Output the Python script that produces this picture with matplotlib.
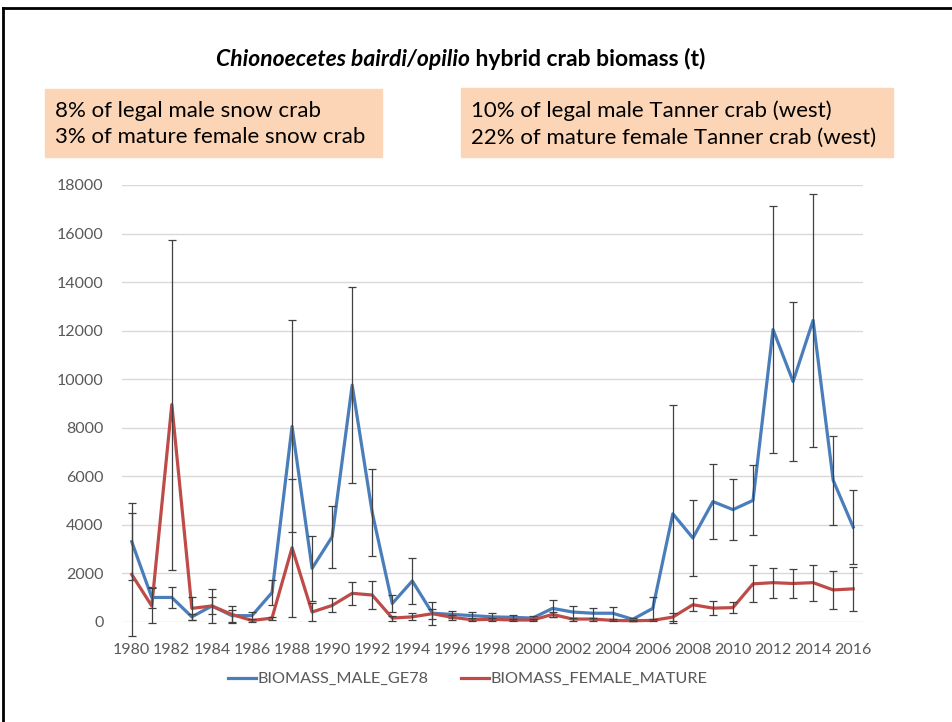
import numpy as np
import matplotlib.pyplot as plt

plt.rcParams['font.family'] = ['Lato', 'DejaVu Sans']

# данные: биомасса гибридного краба (т) и половина доверительного интервала
years = list(range(1980, 2017))
male = [3300, 1000, 1000, 200, 650, 250, 250, 1200, 8050, 2200, 3500, 9750, 4500,
        750, 1680, 350, 300, 250, 200, 180, 150, 550, 400, 350, 350, 100, 550,
        4450, 3450, 4950, 4620, 5000, 12040, 9900, 12420, 5830, 3900]
male_err = [1600, 420, 450, 120, 350, 250, 170, 500, 4370, 1350, 1270, 4040, 1800,
            350, 930, 480, 160, 150, 140, 90, 90, 350, 250, 220, 250, 50, 480,
            4500, 1570, 1550, 1260, 1445, 5100, 3270, 5200, 1840, 1530]
female = [1950, 650, 8950, 550, 650, 300, 50, 150, 3050, 400, 670, 1170, 1100,
          150, 200, 330, 180, 80, 100, 70, 70, 300, 110, 110, 55, 40, 55,
          190, 700, 560, 580, 1560, 1610, 1575, 1610, 1310, 1355]
female_err = [2550, 720, 6800, 480, 700, 350, 50, 60, 2850, 360, 290, 480, 590,
              100, 140, 200, 90, 60, 60, 40, 40, 100, 60, 60, 40, 30, 40,
              150, 260, 290, 230, 760, 620, 600, 740, 790, 900]

title_it = 'Chionoecetes bairdi/opilio'
title_rest = ' hybrid crab biomass (t)'
box_left = '8% of legal male snow crab\n3% of mature female snow crab'
box_right = '10% of legal male Tanner crab (west)\n22% of mature female Tanner crab (west)'

blue = '#4A7EBB'
red = '#BE4B48'
grey_txt = '#595959'

fig = plt.figure(figsize=(9.53, 7.22), dpi=100)
ax = fig.add_axes([0.1277, 0.1389, 0.7781, 0.6049])

# линии и планки погрешностей
ax.plot(years, male, color=blue, lw=2.3, label='BIOMASS_MALE_GE78', zorder=3)
ax.errorbar(years, male, yerr=male_err, fmt='none', ecolor='#404040', elinewidth=0.9,
            capsize=3, capthick=0.9, zorder=4, clip_on=False)
ax.plot(years, female, color=red, lw=2.3, label='BIOMASS_FEMALE_MATURE', zorder=5)
ax.errorbar(years, female, yerr=female_err, fmt='none', ecolor='#404040', elinewidth=0.9,
            capsize=3, capthick=0.9, zorder=6, clip_on=False)
for art in ax.collections + ax.lines:
    art.set_clip_on(False)

# оси
ax.set_xlim(1979.5, 2016.5)
ax.set_ylim(0, 18000)
ax.set_xticks(years[::2])
ax.set_yticks(np.arange(0, 18001, 2000))
ax.tick_params(length=0, labelsize=11.5, labelcolor=grey_txt)
ax.tick_params(axis='y', pad=13)
ax.tick_params(axis='x', pad=15)
ax.grid(axis='y', color='#D9D9D9', lw=1, zorder=0)
for s in ax.spines.values():
    s.set_visible(False)

# заголовок
t1 = fig.text(216 / 953, 1 - 66 / 722, title_it, fontsize=16.5, style='italic',
              weight='bold', ha='left', va='baseline')
fig.canvas.draw()
fig.text(t1.get_window_extent().x1 / 953, 1 - 66 / 722, title_rest, fontsize=16.5,
         weight='bold', ha='left', va='baseline')

# оранжевые плашки
fig.patches.append(plt.Rectangle((45 / 953, 1 - 157 / 722), 337 / 953, 68 / 722,
                                 transform=fig.transFigure, color='#FBD5B5', zorder=0))
fig.patches.append(plt.Rectangle((461 / 953, 1 - 157 / 722), 432 / 953, 69 / 722,
                                 transform=fig.transFigure, color='#FBD5B5', zorder=0))
fig.text(55 / 953, 1 - 124 / 722, box_left, fontsize=16, ha='left', va='center',
         linespacing=1.4)
fig.text(471 / 953, 1 - 124 / 722, box_right, fontsize=16, ha='left', va='center',
         linespacing=1.4)

# рамка слайда
fig.add_artist(plt.Line2D([3 / 953, 3 / 953], [0, 1 - 8 / 722], color='k', lw=2,
                          transform=fig.transFigure))
fig.add_artist(plt.Line2D([3 / 953, 1], [1 - 8 / 722, 1 - 8 / 722], color='k', lw=2,
                          transform=fig.transFigure))

# легенда
leg = fig.legend(loc='center', bbox_to_anchor=(468 / 953, 1 - 679 / 722), ncol=2,
                 frameon=False, fontsize=11.7, handlelength=1.7, handletextpad=0.12,
                 columnspacing=2.0)
for txt in leg.get_texts():
    txt.set_color(grey_txt)

fig.savefig('out.png', dpi=100)
